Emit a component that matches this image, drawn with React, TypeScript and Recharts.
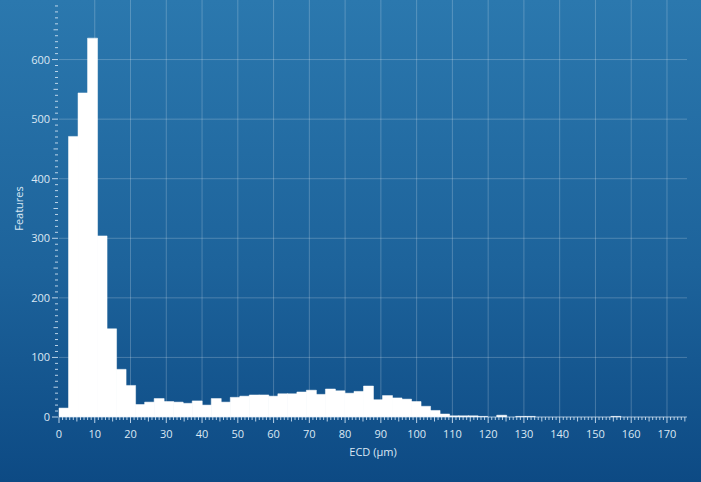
import {Bar, ComposedChart, ReferenceLine, XAxis, YAxis} from "recharts";

// histogram of equivalent circle diameter, 66 equal bins across the axis range
const binWidth = 2.6606;
const counts = [
    15, 471, 544, 636, 304, 148, 80, 53, 21, 25,
    31, 26, 25, 23, 27, 20, 31, 25, 33, 35,
    37, 37, 35, 39, 39, 42, 45, 38, 47, 44,
    40, 43, 52, 29, 36, 32, 30, 26, 18, 11,
    5, 2, 2, 2, 1, 0, 3, 0, 1, 1,
    0, 0, 0, 0, 0, 0, 0, 0, 1, 0,
    0, 0, 0, 0, 0, 0,
];
const xTicks = Array.from({length: 176}, (_, i) => i);
const yTicks = Array.from({length: 70}, (_, i) => i * 10);
const xGrid = [10, 20, 30, 40, 50, 60, 70, 80, 90, 100, 110, 120, 130, 140, 150, 160, 170];
const yGrid = [100, 200, 300, 400, 500, 600];

const data = counts.map((count, i) => ({
    bin: i,
    x: (i + 0.5) * binWidth,
    count,
}));

const tickColor = "rgba(215,232,247,0.85)";
const labelColor = "#dbe8f4";
const gridColor = "rgba(255,255,255,0.22)";

const XTick = (props: any) => {
    const {x, y, payload} = props;
    const v = payload.value;
    const len = v % 10 === 0 ? 6 : v % 5 === 0 ? 4.5 : 3;
    return (
        <g>
            <line x1={x} x2={x} y1={y} y2={y + len} stroke={tickColor} strokeWidth={1}/>
            {v % 10 === 0 && (
                <text x={x} y={y + 21} textAnchor="middle" fill={labelColor} fontSize={11}>
                    {v}
                </text>
            )}
        </g>
    );
};

const YTick = (props: any) => {
    const {x, y, payload} = props;
    const v = payload.value;
    const len = v % 100 === 0 ? 6 : v % 50 === 0 ? 4.5 : 3;
    return (
        <g>
            <line x1={x - len - 1} x2={x - 1} y1={y} y2={y} stroke={tickColor} strokeWidth={1}/>
            {v % 100 === 0 && (
                <text x={x - 9} y={y + 4} textAnchor="end" fill={labelColor} fontSize={11}>
                    {v}
                </text>
            )}
        </g>
    );
};

export default function App() {
    return (
        <div
            style={{
                position: "fixed",
                left: 0,
                top: 0,
                width: 701,
                height: 482,
                background: "linear-gradient(to bottom, #2b78ae 0%, #1d639b 55%, #0d4a84 100%)",
                fontFamily: "'Open Sans', sans-serif",
            }}
        >
            <ComposedChart
                width={701}
                height={482}
                data={data}
                barCategoryGap={0}
                margin={{top: 0, right: 14, left: 0, bottom: 0}}
            >
                <XAxis xAxisId="bin" dataKey="bin" type="category" hide height={0}/>
                <XAxis
                    xAxisId="num"
                    dataKey="x"
                    type="number"
                    domain={[0, counts.length * binWidth]}
                    allowDataOverflow
                    ticks={xTicks}
                    interval={0}
                    tick={<XTick/>}
                    tickLine={false}
                    tickSize={0}
                    tickMargin={0}
                    height={65}
                    axisLine={{stroke: "rgba(225,238,250,0.7)"}}
                    label={{value: "ECD (µm)", position: "center", dy: 3, fill: labelColor, fontSize: 11}}
                />
                <YAxis
                    type="number"
                    domain={[0, 700]}
                    allowDataOverflow
                    ticks={yTicks}
                    interval={0}
                    tick={<YTick/>}
                    tickLine={false}
                    tickSize={0}
                    tickMargin={0}
                    width={59}
                    axisLine={false}
                    label={{value: "Features", angle: -90, position: "center", dx: -10, fill: labelColor, fontSize: 11}}
                />
                {xGrid.map((v) => (
                    <ReferenceLine key={"gx" + v} xAxisId="num" x={v} stroke={gridColor}/>
                ))}
                {yGrid.map((v) => (
                    <ReferenceLine key={"gy" + v} xAxisId="num" y={v} stroke={gridColor}/>
                ))}
                <Bar
                    xAxisId="bin"
                    dataKey="count"
                    fill="#ffffff"
                    stroke="#ffffff"
                    strokeWidth={0.5}
                    isAnimationActive={false}
                />
            </ComposedChart>
        </div>
    );
}
